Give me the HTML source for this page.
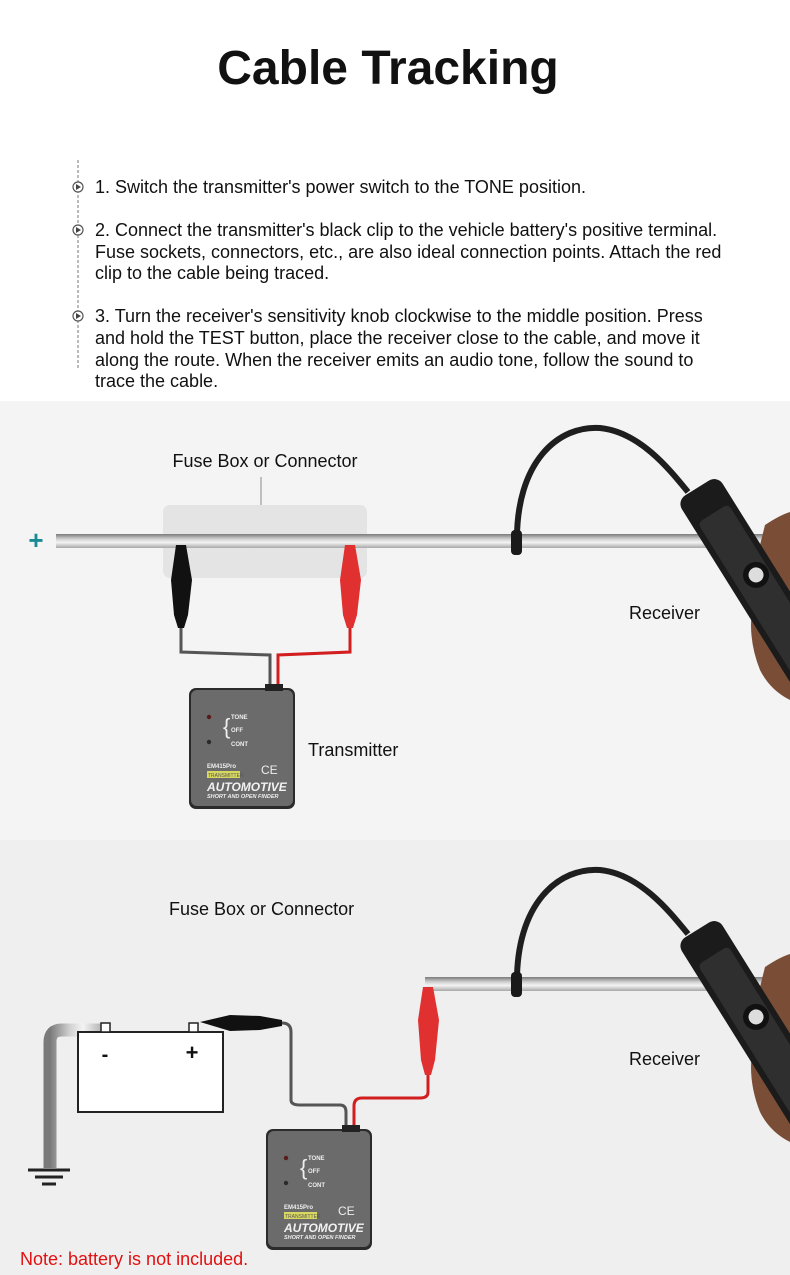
<!DOCTYPE html>
<html><head><meta charset="utf-8"><style>
html,body{margin:0;padding:0;background:#fff}
body{width:790px;height:1275px;position:relative;overflow:hidden;font-family:"Liberation Sans",sans-serif}
</style></head><body>
<svg width="790" height="1275" viewBox="0 0 790 1275" xmlns="http://www.w3.org/2000/svg" style="position:absolute;left:0;top:0">
<defs>
<linearGradient id="wire" x1="0" y1="0" x2="0" y2="1">
<stop offset="0" stop-color="#7a7a7a"/><stop offset="0.35" stop-color="#cfcfcf"/><stop offset="0.6" stop-color="#f4f4f4"/><stop offset="1" stop-color="#a8a8a8"/>
</linearGradient>
<linearGradient id="wirev" x1="0" y1="0" x2="1" y2="0">
<stop offset="0" stop-color="#7a7a7a"/><stop offset="0.35" stop-color="#cfcfcf"/><stop offset="0.6" stop-color="#f4f4f4"/><stop offset="1" stop-color="#a8a8a8"/>
</linearGradient>
<g id="tx">
<rect x="-2" y="-2" width="106" height="121" rx="7" fill="#2b2b2b"/>
<rect x="0" y="0" width="102" height="116" rx="6" fill="#6b6b6b"/>
<rect x="74" y="-6" width="18" height="7" fill="#222"/>
<circle cx="18" cy="27" r="2.2" fill="#5a1a1a"/>
<circle cx="18" cy="52" r="2.2" fill="#2a2a2a"/>
<text x="32" y="44" font-size="22" fill="#eee">{</text>
<text x="40" y="29" font-size="6" fill="#eee" font-weight="bold">TONE</text>
<text x="40" y="42" font-size="6" fill="#eee" font-weight="bold">OFF</text>
<text x="40" y="56" font-size="6" fill="#eee" font-weight="bold">CONT</text>
<text x="16" y="78" font-size="6" fill="#eee" font-weight="bold">EM415Pro</text>
<text x="70" y="84" font-size="12" fill="#eee">CE</text>
<rect x="16" y="81" width="33" height="7" fill="#d8d860"/>
<text x="17" y="87" font-size="5" fill="#555">TRANSMITTER</text>
<text x="16" y="101" font-size="12" fill="#f2f2f2" font-weight="bold" font-style="italic">AUTOMOTIVE</text>
<text x="16" y="108" font-size="5.5" fill="#eee" font-weight="bold" font-style="italic">SHORT AND OPEN FINDER</text>
</g>
<g id="rx">
<path d="M517 545 C 515 460, 560 425, 600 428 C 640 432, 670 470, 688 492" fill="none" stroke="#1e1e1e" stroke-width="6"/>
<rect x="511" y="530" width="11" height="25" rx="4" fill="#1a1a1a"/>
<path d="M765 525 Q780 515 790 512 L790 700 Q770 690 760 670 Q748 640 752 610 Q740 590 738 570 Q745 555 760 545 Z" fill="#7a4e36"/>
<g transform="translate(697,488) rotate(-32)">
<rect x="-24" y="0" width="48" height="260" rx="10" fill="#1b1b1b"/>
<rect x="-18" y="30" width="36" height="220" rx="5" fill="#2f2f2f"/>
<circle cx="4" cy="105" r="13" fill="#111"/><circle cx="4" cy="105" r="7.5" fill="#ddd"/>
</g>
</g>
</defs>

<text x="388" y="84" text-anchor="middle" font-size="48" font-weight="bold" fill="#111">Cable Tracking</text>
<line x1="78" y1="160" x2="78" y2="370" stroke="#777" stroke-width="1" stroke-dasharray="3,2"/>
<g fill="none" stroke="#555" stroke-width="1.2">
<circle cx="78" cy="187" r="5" fill="#fff"/><circle cx="78" cy="230" r="5" fill="#fff"/><circle cx="78" cy="316" r="5" fill="#fff"/>
</g>
<g fill="#444"><path d="M76 184 L81 187 L76 190Z"/><path d="M76 227 L81 230 L76 233Z"/><path d="M76 313 L81 316 L76 319Z"/></g>
<g font-size="18" fill="#111">
<text x="95" y="193">1. Switch the transmitter's power switch to the TONE position.</text>
<text x="95" y="236">2. Connect the transmitter's black clip to the vehicle battery's positive terminal.</text>
<text x="95" y="258">Fuse sockets, connectors, etc., are also ideal connection points. Attach the red</text>
<text x="95" y="279">clip to the cable being traced.</text>
<text x="95" y="322">3. Turn the receiver's sensitivity knob clockwise to the middle position. Press</text>
<text x="95" y="344">and hold the TEST button, place the receiver close to the cable, and move it</text>
<text x="95" y="366">along the route. When the receiver emits an audio tone, follow the sound to</text>
<text x="95" y="387">trace the cable.</text>
</g>

<!-- panel 1 -->
<rect x="0" y="401" width="790" height="439" fill="#f4f4f4"/>
<text x="265" y="467" text-anchor="middle" font-size="18" fill="#111">Fuse Box or Connector</text>
<line x1="261" y1="477" x2="261" y2="512" stroke="#888"/>
<rect x="163" y="505" width="204" height="73" rx="7" fill="#e4e4e4"/>
<rect x="56" y="534" width="734" height="14" fill="url(#wire)"/>
<text x="36" y="549" text-anchor="middle" font-size="26" font-weight="bold" fill="#1a8a94">+</text>
<path d="M181 625 L181 652 L270 655 L270 686" fill="none" stroke="#555" stroke-width="3"/>
<path d="M350 625 L350 652 L278 655 L278 686" fill="none" stroke="#d21e1e" stroke-width="3"/>
<path d="M176 545 L186 545 L192 580 L188 615 L184 628 L178 628 L174 615 L171 580 Z" fill="#111"/>
<path d="M345 545 L355 545 L361 580 L357 615 L353 628 L347 628 L343 615 L340 580 Z" fill="#e03030"/>
<use href="#tx" transform="translate(191,690)"/>
<text x="308" y="756" font-size="18" fill="#111">Transmitter</text>
<use href="#rx"/>
<text x="629" y="619" font-size="18" fill="#111">Receiver</text>

<!-- panel 2 -->
<rect x="0" y="840" width="790" height="435" fill="#efefef"/>
<text x="169" y="915" font-size="18" fill="#111">Fuse Box or Connector</text>
<rect x="425" y="977" width="365" height="14" fill="url(#wire)"/>
<path d="M105 1030 L62 1030 Q50 1030 50 1042 L50 1168" fill="none" stroke="url(#wirev)" stroke-width="13"/>
<line x1="28" y1="1170" x2="70" y2="1170" stroke="#222" stroke-width="3"/>
<line x1="35" y1="1177" x2="63" y2="1177" stroke="#222" stroke-width="3"/>
<line x1="42" y1="1184" x2="56" y2="1184" stroke="#222" stroke-width="3"/>
<rect x="78" y="1032" width="145" height="80" fill="#fff" stroke="#222" stroke-width="2"/>
<rect x="101" y="1023" width="9" height="9" fill="#fff" stroke="#222" stroke-width="1.5"/>
<rect x="189" y="1023" width="9" height="9" fill="#fff" stroke="#222" stroke-width="1.5"/>
<text x="105" y="1061" text-anchor="middle" font-size="20" font-weight="bold" fill="#111">-</text>
<text x="192" y="1060" text-anchor="middle" font-size="22" font-weight="bold" fill="#111">+</text>
<path d="M200 1022 L230 1015 L260 1016 L282 1020 L282 1026 L260 1030 L230 1031 Z" fill="#111"/>
<path d="M282 1023 Q291 1023 291 1032 L291 1100 Q291 1105 300 1105 L340 1105 Q346 1105 346 1112 L346 1128" fill="none" stroke="#555" stroke-width="3"/>
<path d="M428 1075 L428 1092 Q428 1098 420 1098 L362 1098 Q354 1098 354 1106 L354 1128" fill="none" stroke="#d21e1e" stroke-width="3"/>
<path d="M423 987 L433 987 L439 1020 L435 1060 L431 1075 L425 1075 L421 1060 L418 1020 Z" fill="#e03030"/>
<use href="#tx" transform="translate(268,1131)"/>
<use href="#rx" transform="translate(0,442)"/>
<text x="629" y="1065" font-size="18" fill="#111">Receiver</text>
<text x="20" y="1265" font-size="18" fill="#e21010">Note: battery is not included.</text>
</svg>
</body></html>
